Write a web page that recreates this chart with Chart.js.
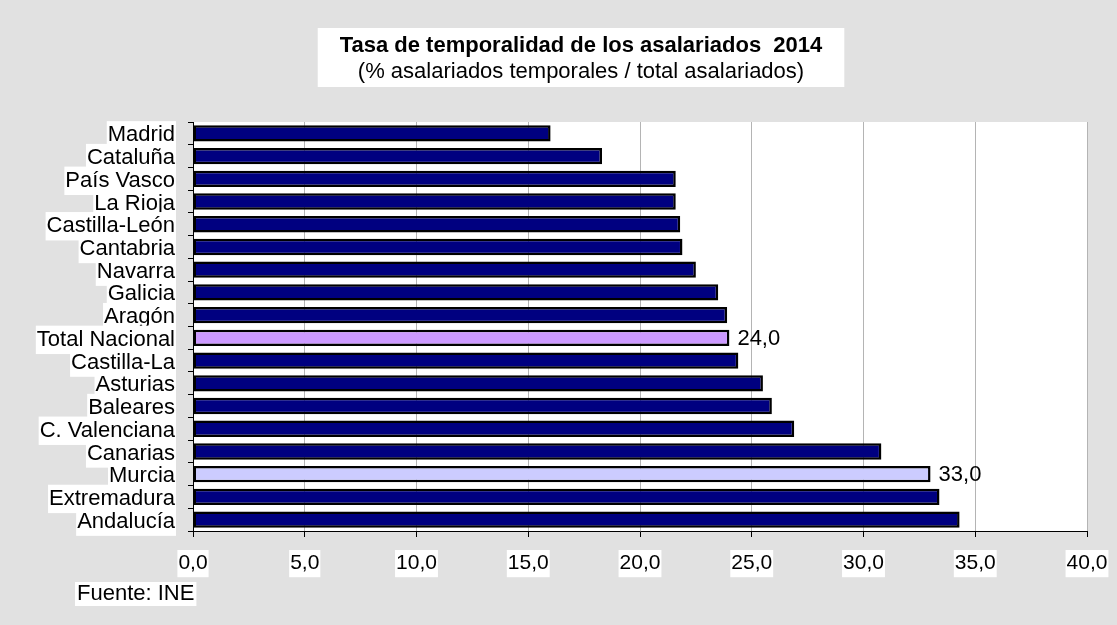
<!DOCTYPE html>
<html>
<head>
<meta charset="utf-8">
<script src="https://cdn.jsdelivr.net/npm/chart.js@4.4.1/dist/chart.umd.min.js"></script>
<style>
  body { margin: 0; background: #e1e1e1; }
  #wrap { width: 1117px; height: 625px; position: relative; }
</style>
</head>
<body>
<div id="wrap"><canvas id="tempChart"></canvas></div>
<script>
const categories = ['Madrid', 'Cataluña', 'País Vasco', 'La Rioja', 'Castilla-León', 'Cantabria', 'Navarra', 'Galicia', 'Aragón', 'Total Nacional', 'Castilla-La', 'Asturias', 'Baleares', 'C. Valenciana', 'Canarias', 'Murcia', 'Extremadura', 'Andalucía'];
const values = [16.0, 18.3, 21.6, 21.6, 21.8, 21.9, 22.5, 23.5, 23.9, 24.0, 24.4, 25.5, 25.9, 26.9, 30.8, 33.0, 33.4, 34.3];
const xTicks = [0, 5, 10, 15, 20, 25, 30, 35, 40];
const labeledCategories = ['Total Nacional', 'Murcia'];
const titleText = 'Tasa de temporalidad de los asalariados  2014';
const subtitleText = '(% asalariados temporales / total asalariados)';
const sourceText = 'Fuente: INE';

const FONT = '"Liberation Sans", Arial, sans-serif';
const NAVY = '#000080';
const highlight = { 'Total Nacional': '#cc99ff', 'Murcia': '#ccccff' };
const barColors = categories.map(c => highlight[c] || NAVY);

function fmt(v) {
    return Number(v).toFixed(1).replace('.', ',');
}

// fondo gris, area blanca, titulo y fuente
const decoPlugin = {
    id: 'deco',
    beforeDraw(chart) {
        const ctx = chart.ctx;
        const a = chart.chartArea;
        ctx.save();
        ctx.fillStyle = '#e1e1e1';
        ctx.fillRect(0, 0, chart.width, chart.height);
        ctx.fillStyle = '#ffffff';
        ctx.fillRect(a.left, a.top, a.right - a.left, a.bottom - a.top);

        // caja del titulo
        const cx = 581;
        ctx.font = 'bold 22px ' + FONT;
        const w1 = ctx.measureText(titleText).width;
        ctx.font = '22px ' + FONT;
        const w2 = ctx.measureText(subtitleText).width;
        const half = Math.max(w1, w2) / 2 + 22;
        ctx.fillStyle = '#ffffff';
        ctx.fillRect(cx - half, 28, half * 2, 59);
        ctx.fillStyle = '#000000';
        ctx.textAlign = 'center';
        ctx.textBaseline = 'middle';
        ctx.font = 'bold 22px ' + FONT;
        ctx.fillText(titleText, cx, 46);
        ctx.font = '22px ' + FONT;
        ctx.fillText(subtitleText, cx, 72);

        // fuente
        ctx.textAlign = 'left';
        const ws = ctx.measureText(sourceText).width;
        ctx.fillStyle = '#ffffff';
        ctx.fillRect(75, 582, ws + 4, 24);
        ctx.fillStyle = '#000000';
        ctx.fillText(sourceText, 77, 594);
        ctx.restore();
    },
    afterDatasetsDraw(chart) {
        const ctx = chart.ctx;
        const meta = chart.getDatasetMeta(0);
        ctx.save();
        ctx.font = '22px ' + FONT;
        ctx.fillStyle = '#000000';
        ctx.textAlign = 'left';
        ctx.textBaseline = 'middle';
        categories.forEach((c, i) => {
            if (!labeledCategories.includes(c)) return;
            const bar = meta.data[i];
            ctx.fillText(fmt(values[i]), bar.x + 8, bar.y + 1);
        });
        ctx.restore();
    }
};

const chart = new Chart(document.getElementById('tempChart'), {
    type: 'bar',
    data: {
        labels: categories,
        datasets: [{
            data: values,
            backgroundColor: barColors,
            borderColor: '#000000',
            borderWidth: 2.5,
            borderSkipped: false,
            barPercentage: 0.72,
            categoryPercentage: 1.0
        }]
    },
    options: {
        indexAxis: 'y',
        responsive: true,
        maintainAspectRatio: false,
        animation: false,
        layout: { padding: { top: 122, right: 30, left: 0, bottom: 0 } },
        plugins: {
            legend: { display: false },
            title: { display: false },
            tooltip: { enabled: false }
        },
        scales: {
            x: {
                min: 0,
                max: 40,
                afterBuildTicks: s => { s.ticks = xTicks.map(v => ({ value: v })); },
                afterFit: s => { s.height = 94; s.paddingLeft = 0; s.paddingRight = 0; },
                grid: { color: '#b4b4b4', tickColor: '#000000', tickLength: 6, lineWidth: 1 },
                border: { color: '#000000', width: 1 },
                ticks: {
                    font: { family: FONT, size: 21 },
                    color: '#000000',
                    padding: 14,
                    maxRotation: 0,
                    callback: v => fmt(v),
                    showLabelBackdrop: true,
                    backdropColor: '#ffffff',
                    backdropPadding: 1
                }
            },
            y: {
                afterFit: s => { s.width = 193; s.paddingTop = 0; s.paddingBottom = 0; },
                grid: { drawOnChartArea: false, tickColor: '#000000', tickLength: 5, offset: true },
                border: { color: '#000000', width: 1 },
                ticks: {
                    font: { family: FONT, size: 22 },
                    color: '#000000',
                    padding: 13,
                    labelOffset: 2,
                    autoSkip: false,
                    showLabelBackdrop: true,
                    backdropColor: '#ffffff',
                    backdropPadding: 1
                }
            }
        }
    },
    plugins: [decoPlugin]
});
</script>
</body>
</html>
